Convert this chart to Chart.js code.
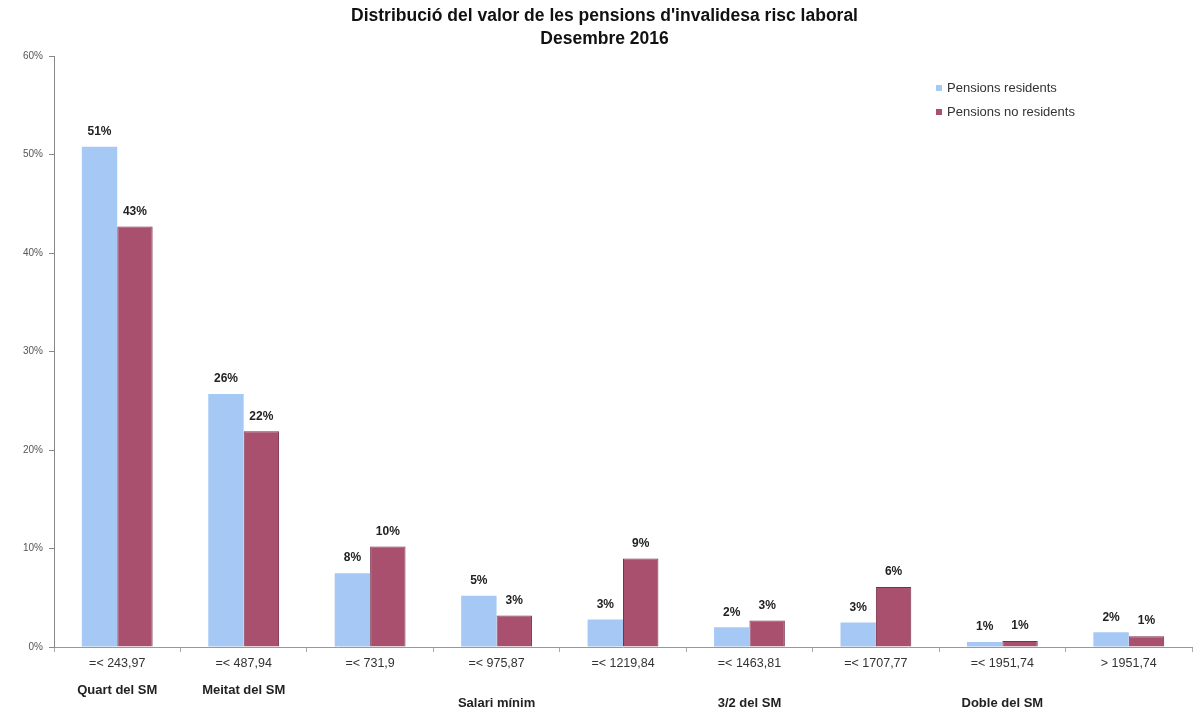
<!DOCTYPE html>
<html>
<head>
<meta charset="utf-8">
<script src="https://cdn.jsdelivr.net/npm/chart.js@4/dist/chart.umd.min.js"></script>
<style>
html,body{margin:0;padding:0;background:#fff;}
#wrap{width:1196px;height:717px;position:relative;}
</style>
</head>
<body>
<div id="wrap"><canvas id="c" width="1196" height="717"></canvas></div>
<script>
const titleLines = ["Distribució del valor de les pensions d'invalidesa risc laboral", "Desembre 2016"];
const categories = ["=< 243,97", "=< 487,94", "=< 731,9", "=< 975,87", "=< 1219,84", "=< 1463,81", "=< 1707,77", "=< 1951,74", "> 1951,74"];
const groupNames = ["Quart del SM", "Meitat del SM", "", "Salari mínim", "", "3/2 del SM", "", "Doble del SM", ""];
const groupRow = [1, 1, 0, 2, 0, 2, 0, 2, 0];
const seriesNames = ["Pensions residents", "Pensions no residents"];
const residents = [50.8, 25.7, 7.5, 5.2, 2.8, 2.0, 2.5, 0.5, 1.5];
const nonResidents = [42.7, 21.9, 10.2, 3.2, 9.0, 2.7, 6.1, 0.6, 1.1];
const yTicks = [0, 10, 20, 30, 40, 50, 60];

const colors = ["#A6C8F5", "#A8506E"];
const FONT = "Arial, 'Liberation Sans', sans-serif";

const labelPlugin = {
  id: 'extras',
  afterDatasetsDraw(chart) {
    const ctx = chart.ctx;
    ctx.save();
    // value labels
    ctx.font = "bold 12px " + FONT;
    ctx.fillStyle = "#222";
    ctx.textAlign = "center";
    ctx.textBaseline = "middle";
    chart.data.datasets.forEach((ds, di) => {
      const meta = chart.getDatasetMeta(di);
      meta.data.forEach((bar, i) => {
        ctx.fillText(Math.round(ds.data[i]) + "%", bar.x, bar.y - 15);
      });
    });
    // group labels under axis
    const xs = chart.scales.x;
    ctx.font = "bold 13px " + FONT;
    groupNames.forEach((g, i) => {
      if (!g) return;
      const x = xs.getPixelForValue(i);
      const y = groupRow[i] === 1 ? 690 : 703;
      ctx.fillText(g, x, y);
    });
    // legend
    ctx.font = "13px " + FONT;
    ctx.textAlign = "left";
    seriesNames.forEach((n, i) => {
      const y = 88 + i * 24;
      ctx.fillStyle = colors[i];
      ctx.fillRect(936, y - 3, 6, 6);
      ctx.fillStyle = "#333";
      ctx.fillText(n, 947, y);
    });
    ctx.restore();
  }
};

new Chart(document.getElementById('c'), {
  type: 'bar',
  data: {
    labels: categories,
    datasets: [
      { label: seriesNames[0], data: residents, backgroundColor: colors[0], borderWidth: 0, categoryPercentage: 0.56, barPercentage: 1.0 },
      { label: seriesNames[1], data: nonResidents, backgroundColor: colors[1], borderColor: "#7A3049", borderWidth: 1, categoryPercentage: 0.56, barPercentage: 1.0 }
    ]
  },
  options: {
    responsive: false,
    animation: false,
    devicePixelRatio: 1,
    layout: { padding: { left: 17, right: 4, top: 0, bottom: 42 } },
    plugins: {
      legend: { display: false },
      tooltip: { enabled: false },
      title: {
        display: true,
        text: titleLines,
        color: "#111",
        font: { family: FONT, size: 17.5, weight: 'bold', lineHeight: 1.32 },
        padding: { top: 5, bottom: 5 }
      }
    },
    scales: {
      x: {
        grid: { display: true, offset: true, drawOnChartArea: false, tickLength: 5, color: "#aaa" },
        border: { color: "#999", width: 1 },
        ticks: { color: "#333", font: { family: FONT, size: 12.5 }, padding: 4, maxRotation: 0, autoSkip: false }
      },
      y: {
        min: 0, max: 60,
        afterBuildTicks(axis) { axis.ticks = yTicks.map(v => ({ value: v })); },
        grid: { display: true, drawOnChartArea: false, tickLength: 5, color: "#888" },
        border: { color: "#888", width: 1 },
        ticks: { color: "#555", font: { family: FONT, size: 10 }, padding: 6, callback: v => v + "%" }
      }
    }
  },
  plugins: [labelPlugin]
});
</script>
</body>
</html>
